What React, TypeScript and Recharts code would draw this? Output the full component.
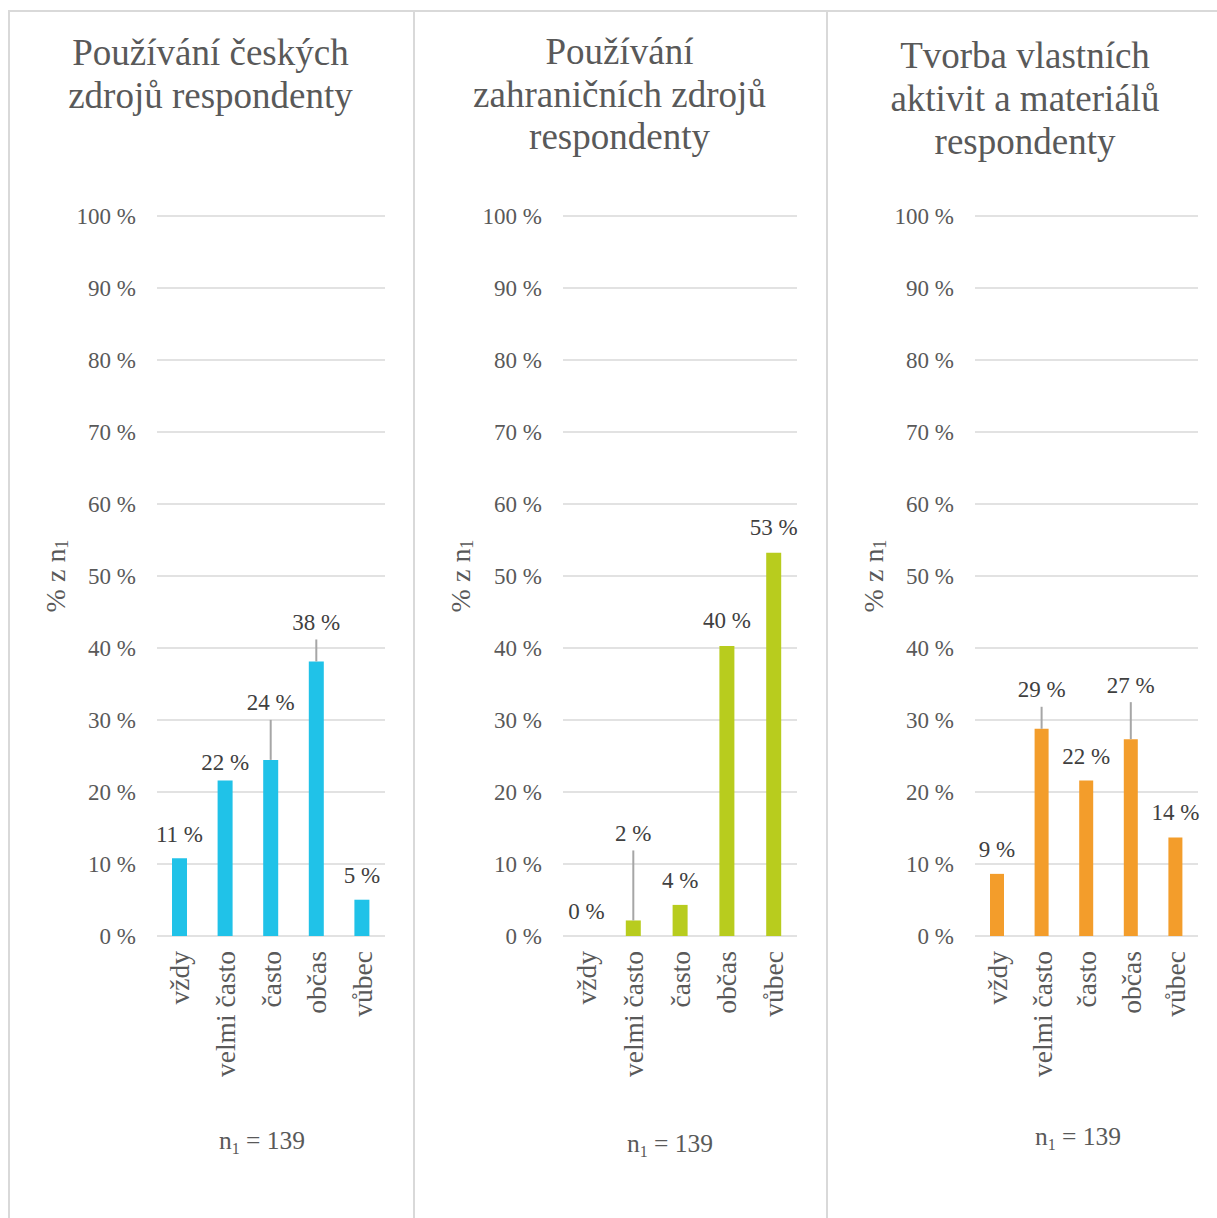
import { Bar, BarChart, CartesianGrid, Cell, LabelList, XAxis, YAxis } from "recharts";

// odpovědi respondentů (n1 = 139), hodnoty v %
const categories = ["vždy", "velmi často", "často", "občas", "vůbec"];
const czechSources = [10.79, 21.58, 24.46, 38.13, 5.04];
const foreignSources = [0, 2.16, 4.32, 40.29, 53.24];
const ownMaterials = [8.63, 28.78, 21.58, 27.34, 13.67];
const yTicks = [0, 10, 20, 30, 40, 50, 60, 70, 80, 90, 100];
const sampleSize = 139;

const titleCzech = ["Používání českých", "zdrojů respondenty"];
const titleForeign = ["Používání", "zahraničních zdrojů", "respondenty"];
const titleOwn = ["Tvorba vlastních", "aktivit a materiálů", "respondenty"];

const FONT = '"Liberation Serif", "Times New Roman", serif';
const TEXT = "#595959";
const LABEL = "#404040";
const GRID = "#d9d9d9";
const CHART_H = 1100;
const PLOT_TOP = 216;
const X_AXIS_H = 164;

const panels = [
  {
    title: titleCzech,
    values: czechSources,
    color: "#20c2e8",
    left: 8,
    width: 405,
    yAxisWidth: 149,
    right: 28,
    barSize: 15,
    lifts: [24, 18, 57, 39, 24],
    titleTop: 31,
    titleLine: 43,
    noteX: 262,
    noteBaseline: 1149,
  },
  {
    title: titleForeign,
    values: foreignSources,
    color: "#b8cc1e",
    left: 413,
    width: 413,
    yAxisWidth: 150,
    right: 29,
    barSize: 15,
    lifts: [25, 87, 24, 25, 25],
    titleTop: 31,
    titleLine: 42.5,
    noteX: 670,
    noteBaseline: 1152,
  },
  {
    title: titleOwn,
    values: ownMaterials,
    color: "#f39d2b",
    left: 826,
    width: 398,
    yAxisWidth: 149,
    right: 26,
    barSize: 14,
    lifts: [24, 39, 24, 54, 25],
    titleTop: 34,
    titleLine: 43,
    noteX: 1078,
    noteBaseline: 1145,
  },
];

function makeLabel(values: number[], lifts: number[]) {
  return (props: any) => {
    const { x, y, width, height, value } = props;
    const i = values.indexOf(Number(value));
    const cx = Number(x) + Number(width) / 2;
    // zero bars get a 1px minimum height, measure from the baseline
    const top = Number(value) === 0 ? Number(y) + Number(height) : Number(y);
    const lift = lifts[i] ?? 24;
    const cy = top - lift;
    return (
      <g>
        {lift > 32 && (
          <line x1={cx} x2={cx} y1={cy + 17} y2={top} stroke="#a6a6a6" strokeWidth={2} />
        )}
        <text
          x={cx}
          y={cy}
          textAnchor="middle"
          dominantBaseline="central"
          fontSize={23}
          fontFamily={FONT}
          fill={LABEL}
        >
          {`${Math.round(Number(value))} %`}
        </text>
      </g>
    );
  };
}

function CategoryTick(props: any) {
  const { x, y, payload } = props;
  return (
    <text
      transform={`translate(${x},${Number(y) + 15}) rotate(-90)`}
      textAnchor="end"
      dy="0.35em"
      fontSize={27.5}
      fontFamily={FONT}
      fill={TEXT}
    >
      {payload.value}
    </text>
  );
}

function axisTitle(props: any) {
  const vb = props.viewBox;
  if (!vb) return null;
  return (
    <text
      transform={`translate(${vb.x + 47},${vb.y + vb.height / 2}) rotate(-90)`}
      textAnchor="middle"
      dominantBaseline="central"
      fontSize={28}
      fontFamily={FONT}
      fill={TEXT}
    >
      % z n
      <tspan dy={7} fontSize={18}>
        1
      </tspan>
    </text>
  );
}

export default function App() {
  return (
    <div
      style={{
        position: "absolute",
        left: 0,
        top: 0,
        width: 1217,
        height: 1218,
        overflow: "hidden",
        background: "#fff",
        fontFamily: FONT,
      }}
    >
      <div style={{ position: "absolute", left: 8, top: 10, width: 1209, height: 2, background: GRID }} />
      {panels.map((p) => (
        <div
          key={`line-${p.left}`}
          style={{ position: "absolute", left: p.left, top: 10, width: 2, height: 1208, background: GRID }}
        />
      ))}

      {panels.map((p) => {
        const data = categories.map((name, i) => ({ name, value: p.values[i] }));
        return (
          <div key={p.left}>
            <div
              style={{
                position: "absolute",
                left: p.left,
                top: p.titleTop,
                width: p.width,
                textAlign: "center",
                fontSize: 37,
                lineHeight: `${p.titleLine}px`,
                color: TEXT,
              }}
            >
              {p.title.map((line) => (
                <div key={line}>{line}</div>
              ))}
            </div>

            <div style={{ position: "absolute", left: p.left, top: 0 }}>
              <BarChart
                width={p.width}
                height={CHART_H}
                data={data}
                margin={{ top: PLOT_TOP, right: p.right, bottom: 0, left: 0 }}
                style={{ fontFamily: FONT }}
              >
                <CartesianGrid vertical={false} stroke={GRID} strokeWidth={1.5} />
                <XAxis
                  dataKey="name"
                  interval={0}
                  height={X_AXIS_H}
                  axisLine={false}
                  tickLine={false}
                  tickSize={0}
                  tickMargin={0}
                  tick={<CategoryTick />}
                />
                <YAxis
                  domain={[0, 100]}
                  ticks={yTicks}
                  width={p.yAxisWidth}
                  axisLine={false}
                  tickLine={false}
                  tickSize={0}
                  tickMargin={21}
                  tickFormatter={(v) => `${v} %`}
                  tick={{ fontSize: 23, fill: TEXT, fontFamily: FONT }}
                  label={axisTitle}
                />
                <Bar
                  dataKey="value"
                  fill={p.color}
                  barSize={p.barSize}
                  minPointSize={1}
                  isAnimationActive={false}
                >
                  {data.map((d) => (
                    <Cell key={d.name} fill={d.value === 0 ? "transparent" : p.color} />
                  ))}
                  <LabelList dataKey="value" content={makeLabel(p.values, p.lifts)} />
                </Bar>
              </BarChart>
            </div>

            <div
              style={{
                position: "absolute",
                left: p.noteX - 100,
                top: p.noteBaseline - 21,
                width: 200,
                textAlign: "center",
                fontSize: 25.5,
                lineHeight: "25px",
                color: TEXT,
              }}
            >
              n<sub style={{ fontSize: 16, verticalAlign: "-5px", lineHeight: 0 }}>1</sub> = {sampleSize}
            </div>
          </div>
        );
      })}
    </div>
  );
}
